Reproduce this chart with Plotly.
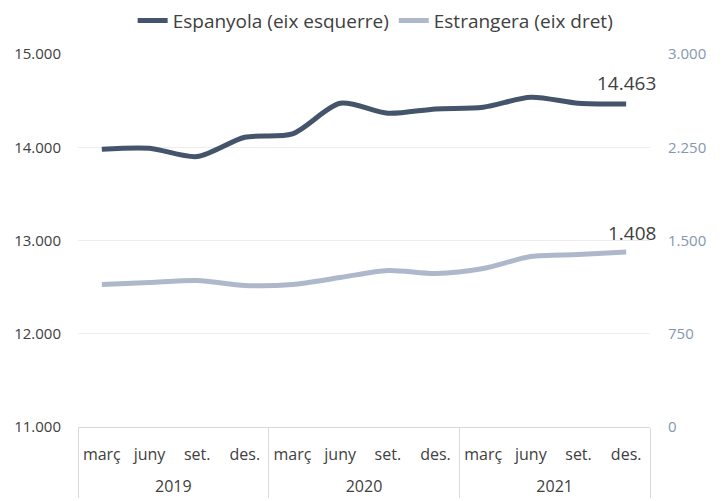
import plotly.graph_objects as go

years = ["2019"] * 4 + ["2020"] * 4 + ["2021"] * 4
months = ["març", "juny", "set.", "des."] * 3
espanyola = [13979, 13989, 13900, 14107, 14143, 14471, 14364, 14411, 14429, 14536, 14471, 14463]
estrangera = [1146, 1162, 1178, 1138, 1146, 1202, 1259, 1235, 1275, 1371, 1387, 1408]
left_ticks = [11000, 12000, 13000, 14000, 15000]
right_ticks = [0, 750, 1500, 2250, 3000]

FONT = "Open Sans"
dark = "#44546A"
light = "#ADB9CA"

fmt = lambda v: f"{v:,}".replace(",", ".")
year_labels = ["<br>" + y for y in years]

fig = go.Figure()
fig.add_trace(go.Scatter(
    x=[year_labels, months], y=espanyola, name="Espanyola (eix esquerre)",
    mode="lines", line=dict(color=dark, width=5, shape="spline", smoothing=0.8),
))
fig.add_trace(go.Scatter(
    x=[year_labels, months], y=estrangera, name="Estrangera (eix dret)", yaxis="y2",
    mode="lines", line=dict(color=light, width=5, shape="spline", smoothing=0.8),
))

last = len(months) - 1
fig.add_annotation(x=last, y=espanyola[-1], xref="x", yref="y", text=fmt(espanyola[-1]),
                   showarrow=False, yshift=21, font=dict(size=19, color="#404040", family=FONT))
fig.add_annotation(x=last, y=estrangera[-1], xref="x", yref="y2", text=fmt(estrangera[-1]),
                   showarrow=False, yshift=19, xshift=6, font=dict(size=19, color="#404040", family=FONT))

fig.update_layout(
    width=728, height=501,
    margin=dict(l=70, r=86, t=46, b=82, autoexpand=False),
    paper_bgcolor="white", plot_bgcolor="white",
    separators=",.",
    font=dict(family=FONT, color="#404040", size=15),
    showlegend=True,
    legend=dict(orientation="h", x=0.505, xanchor="center", xref="container",
                y=0.975, yanchor="middle", yref="container",
                font=dict(size=19, color="#404040"),
                traceorder="normal", bgcolor="rgba(0,0,0,0)"),
    xaxis=dict(type="multicategory", showline=True, linecolor="#D9D9D9", linewidth=1,
               range=[-0.5, len(months) - 0.5],
               showdividers=True, dividercolor="#D9D9D9", dividerwidth=1,
               ticks="", tickfont=dict(size=16, color="#404040", family=FONT),
               ticklabelstandoff=13,
               showgrid=False, zeroline=False, automargin=False),
    yaxis=dict(range=[11000, 15000], tickvals=left_ticks, tickformat=",d",
               showgrid=True, gridcolor="#EDEDED", gridwidth=1, zeroline=False,
               tickfont=dict(size=15, color="#404040", family=FONT), ticks="",
               ticklabelstandoff=16, showline=False, automargin=False),
    yaxis2=dict(range=[0, 3000], tickvals=right_ticks, tickformat=",d", overlaying="y",
                side="right", showgrid=False, zeroline=False, automargin=False,
                ticklabelstandoff=17,
                tickfont=dict(size=15, color="#8497B0", family=FONT), ticks=""),
)

fig.write_html("out.html")
